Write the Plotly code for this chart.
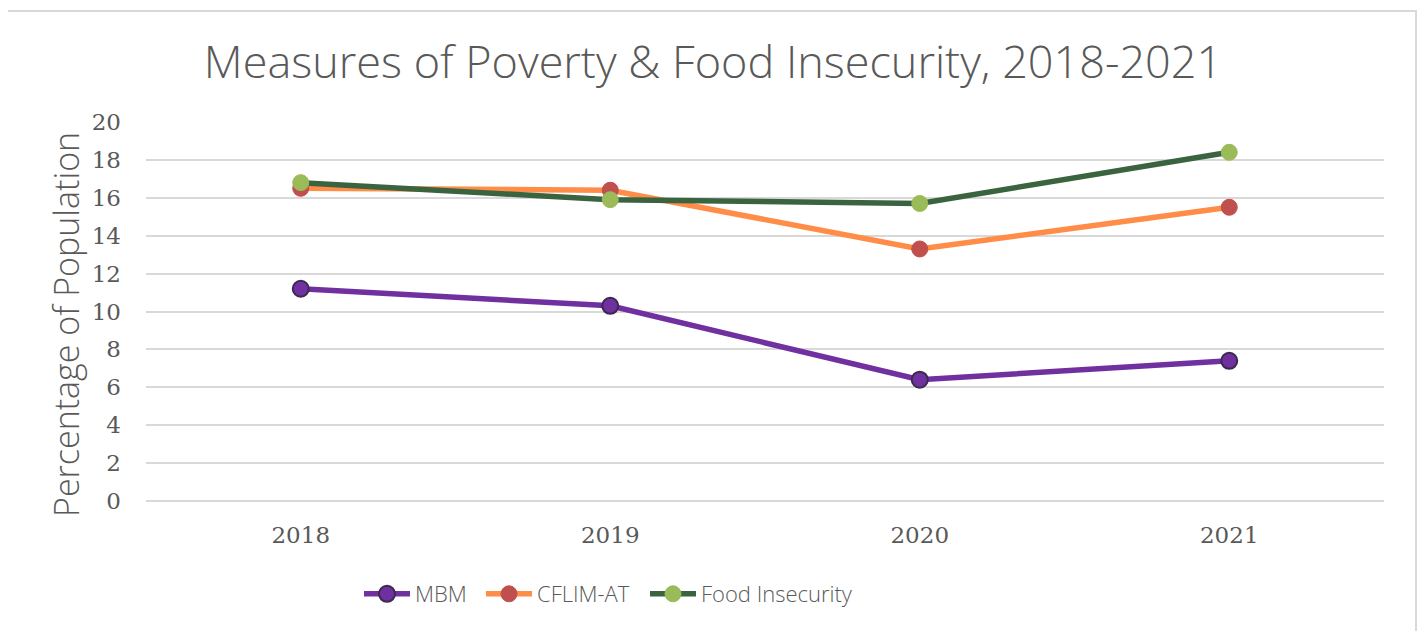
import plotly.graph_objects as go

years = ["2018", "2019", "2020", "2021"]
mbm = [11.2, 10.3, 6.4, 7.4]
cflim = [16.5, 16.4, 13.3, 15.5]
food = [16.8, 15.9, 15.7, 18.4]
y_ticks = [0, 2, 4, 6, 8, 10, 12, 14, 16, 18, 20]

# page has an 8px body margin: figure sits at (8, 8)
OFF = 8
W, H = 1425 - OFF, 631 - OFF
L = 146 - OFF
R = W - (1384 - OFF)
T = 122 - OFF
B = H - (501 - OFF)
pw, ph = W - L - R, H - T - B

def px_x(x):  # page pixel -> paper x
    return (x - OFF - L) / pw

def px_y(y):  # page pixel -> paper y
    return (H - B - (y - OFF)) / ph

def cy(y):  # page pixel -> container y
    return 1 - (y - OFF) / H

def cx(x):
    return (x - OFF) / W

fig = go.Figure()
fig.add_trace(go.Scatter(
    x=years, y=mbm, name="MBM", mode="lines+markers", legend="legend",
    line=dict(color="#7030A0", width=5.5),
    marker=dict(color="#7030A0", size=16, line=dict(color="#3A2A4E", width=2)),
))
fig.add_trace(go.Scatter(
    x=years, y=cflim, name="CFLIM-AT", mode="lines+markers", legend="legend2",
    line=dict(color="#FF8C47", width=5.5),
    marker=dict(color="#C0504D", size=16, line=dict(color="#C0504D", width=1)),
))
fig.add_trace(go.Scatter(
    x=years, y=food, name="Food Insecurity", mode="lines+markers", legend="legend3",
    line=dict(color="#3A6340", width=5.5),
    marker=dict(color="#9BBB59", size=16, line=dict(color="#9BBB59", width=1)),
))

fig.add_shape(type="rect", xref="paper", yref="paper",
              x0=px_x(7), x1=px_x(1416), y0=px_y(700), y1=px_y(11),
              line=dict(color="#D9D9D9", width=2), fillcolor="rgba(0,0,0,0)",
              layer="below")

fig.add_annotation(text="Percentage of Population", xref="paper", yref="paper",
                   x=px_x(66), y=px_y(325), xanchor="center", yanchor="middle",
                   textangle=-90, showarrow=False,
                   font=dict(family="Open Sans", size=34, color="#595959", weight=300))

def leg(xpix):
    return dict(orientation="h", x=cx(xpix), xanchor="left", xref="container",
                y=cy(594), yref="container", yanchor="middle", itemwidth=46,
                font=dict(family="Open Sans", size=22, color="#595959", weight=300),
                bgcolor="rgba(0,0,0,0)")

fig.update_layout(
    width=W, height=H,
    margin=dict(l=L, r=R, t=T, b=B),
    paper_bgcolor="white", plot_bgcolor="white",
    title=dict(text="Measures of Poverty & Food Insecurity, 2018-2021",
               x=cx(713), xref="container", xanchor="center",
               y=cy(62), yref="container", yanchor="middle",
               font=dict(family="Open Sans", size=45, color="#595959", weight=300)),
    showlegend=True,
    legend=leg(359), legend2=leg(481), legend3=leg(645),
    xaxis=dict(type="category", range=[-0.5, 3.5], showgrid=False,
               showline=False, zeroline=False, ticks="", ticklabelstandoff=18,
               tickfont=dict(family="DejaVu Serif", size=23, color="#595959")),
    yaxis=dict(range=[0, 20], tickvals=y_ticks, showgrid=True,
               gridcolor="#D9D9D9", gridwidth=2, zeroline=True,
               zerolinecolor="#D9D9D9", zerolinewidth=2,
               showline=False, ticks="", ticklabelstandoff=24,
               tickfont=dict(family="DejaVu Serif", size=23, color="#595959")),
)

fig.write_html("out.html")
